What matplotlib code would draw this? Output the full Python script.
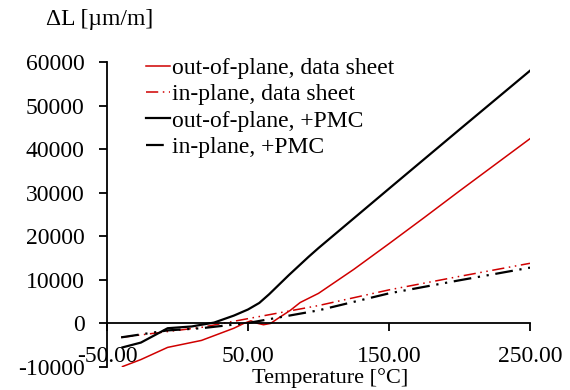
import matplotlib
matplotlib.use("Agg")
import matplotlib.pyplot as plt

plt.rcParams['font.family'] = ['Liberation Serif', 'DejaVu Serif']

# out-of-plane, data sheet
t_op_ds = [-39, -26, -7, 17, 40, 47, 52, 57, 61, 66, 71, 80, 87, 100, 125, 150, 175, 200, 225, 250]
v_op_ds = [-9900, -8300, -5500, -3900, -1100, 0, 600, 0, -300, 0, 1100, 3000, 4800, 6900, 12400, 18300, 24300, 30400, 36400, 42400]

# in-plane, data sheet
t_ip_ds = [-40, -35, 17, 50, 100, 150, 200, 250]
v_ip_ds = [-3200, -3000, -900, 1100, 4100, 7700, 10800, 13800]

# out-of-plane, +PMC
t_op_pmc = [-39, -26, -15, -7, 10, 26, 40, 50, 58, 65, 72, 79, 86, 93, 100, 151, 200, 250]
v_op_pmc = [-5500, -4400, -2500, -1100, -700, 200, 1800, 3200, 4700, 6700, 8900, 11100, 13200, 15300, 17300, 31200, 44500, 58000]

# in-plane, +PMC
t_ip_pmc = [-40, -7, 17, 50, 100, 150, 200, 250]
v_ip_pmc = [-3200, -1600, -1100, 100, 3000, 6900, 9900, 12800]

xticks = [-50, 50, 150, 250]
yticks = [-10000, 0, 10000, 20000, 30000, 40000, 50000, 60000]

rojo = '#D00000'
fs = 17

fig = plt.figure(figsize=(5.7, 3.9), dpi=100)
ax = fig.add_axes([107/570, 1-367/390, (530-107)/570, (367-62)/390])

ax.plot(t_op_ds, v_op_ds, color=rojo, lw=1.1, label='out-of-plane, data sheet')
ax.plot(t_ip_ds, v_ip_ds, color=rojo, lw=1.1, dashes=(8, 3, 1, 3, 1, 3), label='in-plane, data sheet')
ax.plot(t_op_pmc, v_op_pmc, color='black', lw=1.6, label='out-of-plane, +PMC')
ax.plot(t_ip_pmc, v_ip_pmc, color='black', lw=1.6, dashes=(8, 3, 1, 3, 1, 3), label='in-plane, +PMC')

ax.set_xlim(-50, 250)
ax.set_ylim(-10000, 60000)
ax.spines['top'].set_visible(False)
ax.spines['right'].set_visible(False)
ax.spines['bottom'].set_position(('data', 0))
ax.spines['left'].set_linewidth(1.3)
ax.spines['bottom'].set_linewidth(1.3)

ax.set_xticks(xticks)
ax.set_xticklabels(['%.2f' % t for t in xticks])
ax.set_yticks(yticks)
ax.set_yticklabels([str(v) for v in yticks])
ax.tick_params(axis='x', direction='out', length=6, width=1.3, pad=10, labelsize=fs)
ax.tick_params(axis='y', direction='out', length=6, width=1.3, pad=10, labelsize=fs)

ax.legend(loc='upper left', bbox_to_anchor=(0.07, 1.045), frameon=False, fontsize=fs,
          handlelength=1.0, handletextpad=0.1, labelspacing=0.2, borderaxespad=0)

fig.text(100/570, 1-20/390, 'ΔL [µm/m]', fontsize=fs, ha='center', va='center')
fig.text(330/570, 1-378/390, 'Temperature [°C]', fontsize=16, ha='center', va='center')

fig.savefig('out.png', dpi=100)
